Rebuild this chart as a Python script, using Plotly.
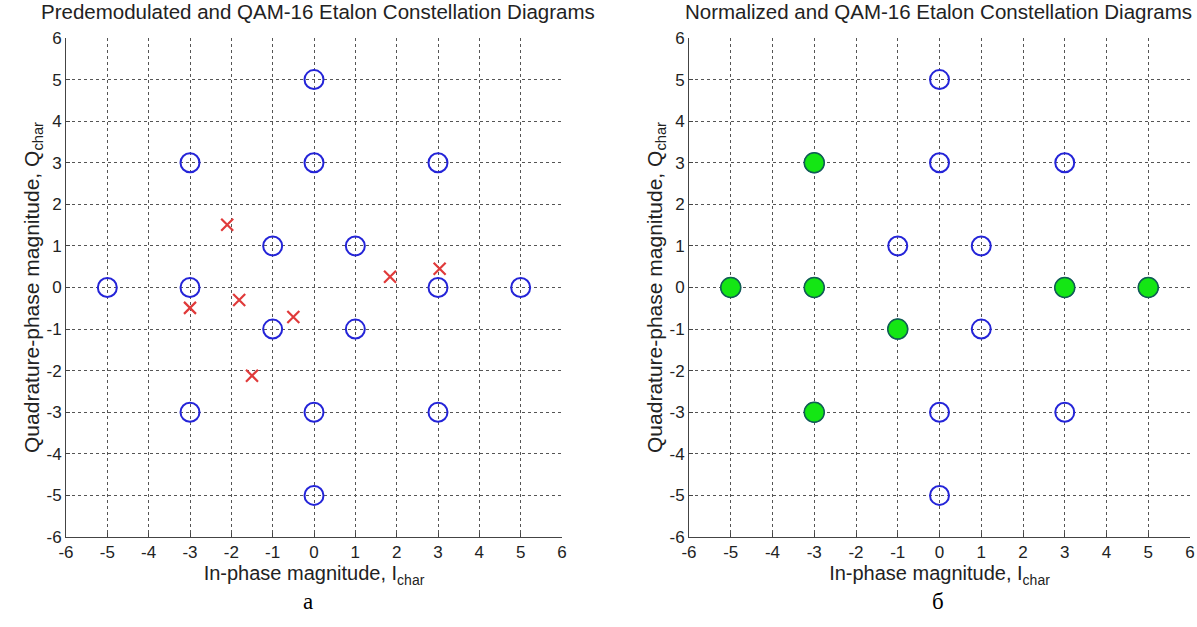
import plotly.graph_objects as go

# QAM-16 etalon constellation (blue open circles)
etalon_i = [0, -3, 0, 3, -1, 1, -5, -3, 3, 5, -1, 1, -3, 0, 3, 0]
etalon_q = [5, 3, 3, 3, 1, 1, 0, 0, 0, 0, -1, -1, -3, -3, -3, -5]

# Predemodulated points (red crosses)
pre_i = [-2.10, -1.81, -3.00, -0.50, -1.50, 1.84, 3.04]
pre_q = [1.51, -0.30, -0.49, -0.71, -2.12, 0.26, 0.45]

# Normalized points (green filled circles)
norm_i = [-5, -3, -3, -3, -1, 3, 5]
norm_q = [0, 3, 0, -3, -1, 0, 0]

tick_vals = list(range(-6, 7))
tick_text = [str(v) for v in tick_vals]

titles = ["Predemodulated and QAM-16 Etalon Constellation Diagrams",
          "Normalized and QAM-16 Etalon Constellation Diagrams"]
captions = ["а", "б"]

W, H = 1197, 627
font = "Liberation Sans, Arial, sans-serif"

def px(x):
    return x / W

def py(y):
    return 1 - y / H

fig = go.Figure()

blue_marker = dict(symbol="circle-open", size=19, color="#2424d8",
                   line=dict(width=2, color="#2424d8"))

# left plot
fig.add_trace(go.Scatter(x=etalon_i, y=etalon_q, mode="markers", marker=blue_marker,
                         xaxis="x", yaxis="y", showlegend=False, cliponaxis=False))
fig.add_trace(go.Scatter(x=pre_i, y=pre_q, mode="markers",
                         marker=dict(symbol="x-thin-open", size=12, color="#e03a3a",
                                     line=dict(width=2.2, color="#e03a3a")),
                         xaxis="x", yaxis="y", showlegend=False))
# right plot
fig.add_trace(go.Scatter(x=etalon_i, y=etalon_q, mode="markers", marker=blue_marker,
                         xaxis="x2", yaxis="y2", showlegend=False, cliponaxis=False))
fig.add_trace(go.Scatter(x=norm_i, y=norm_q, mode="markers",
                         marker=dict(symbol="circle", size=20, color="#14e614",
                                     line=dict(width=1.5, color="#106050")),
                         xaxis="x2", yaxis="y2", showlegend=False))

dom_left = [px(66), px(562)]
dom_right = [px(689), px(1190)]
dom_y = [py(537), py(38)]

def axis_common():
    return dict(range=[-6, 6], tickmode="array", tickvals=tick_vals, ticktext=tick_text,
                showgrid=True, gridcolor="#555555", griddash="dot", gridwidth=1,
                zeroline=False, showline=True, linecolor="#444444", linewidth=1,
                ticks="inside", ticklen=4, tickcolor="#444444",
                tickfont=dict(family=font, size=17, color="#222222"),
                automargin=False, ticklabeloverflow="allow", fixedrange=True)

xt = "In-phase magnitude, I<sub>char</sub>"
yt = "Quadrature-phase magnitude, Q<sub>char</sub>"
xfont = dict(family=font, size=20, color="#222222")
yfont = dict(family=font, size=21, color="#222222")

fig.update_layout(
    width=W, height=H,
    margin=dict(l=0, r=0, t=0, b=0, autoexpand=False),
    paper_bgcolor="white", plot_bgcolor="white",
    xaxis=dict(domain=dom_left, anchor="y", title=dict(text=xt, font=xfont, standoff=0),
               **axis_common()),
    yaxis=dict(domain=dom_y, anchor="x", title=dict(text=yt, font=yfont, standoff=1),
               **axis_common()),
    xaxis2=dict(domain=dom_right, anchor="y2", title=dict(text=xt, font=xfont, standoff=0),
                **axis_common()),
    yaxis2=dict(domain=dom_y, anchor="x2", title=dict(text=yt, font=yfont, standoff=1),
                **axis_common()),
)

title_cx = [px(318), px(938)]
cap_cx = [px(308), px(938)]
for k in range(2):
    fig.add_annotation(x=title_cx[k], y=py(12), xref="paper", yref="paper", text=titles[k],
                       showarrow=False, xanchor="center", yanchor="middle",
                       font=dict(family=font, size=20.5, color="#222222"))
    fig.add_annotation(x=cap_cx[k], y=py(601), xref="paper", yref="paper", text=captions[k],
                       showarrow=False, xanchor="center", yanchor="middle",
                       font=dict(family="Liberation Serif, Times New Roman, serif",
                                 size=23, color="black"))

fig.write_html("out.html", config={"displayModeBar": False, "staticPlot": True},
               post_script="document.body.style.margin='0';document.body.style.overflow='hidden';")
